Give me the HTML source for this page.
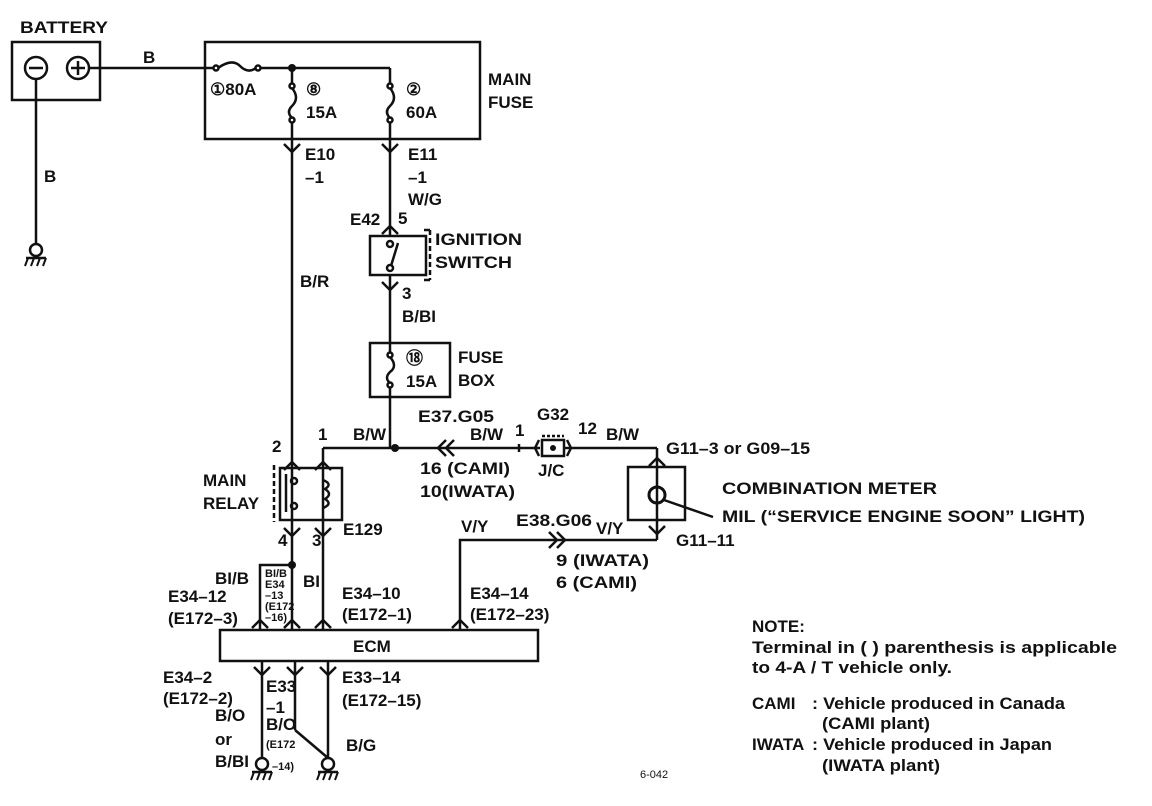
<!DOCTYPE html>
<html><head><meta charset="utf-8"><style>
html,body{margin:0;padding:0;background:#fff}
svg{display:block}
text{font-family:"Liberation Sans",sans-serif;font-size:17px;fill:#111;font-weight:bold}
.s{font-size:11px}
</style></head><body>
<svg width="1152" height="806" viewBox="0 0 1152 806" xmlns="http://www.w3.org/2000/svg">
<g stroke="#111" stroke-width="2.5" fill="none">
<rect x="12" y="42" width="88" height="58"/>
<circle cx="36" cy="68" r="11"/><line x1="29" y1="68" x2="43" y2="68"/>
<circle cx="78" cy="68" r="11"/><line x1="71" y1="68" x2="85" y2="68"/><line x1="78" y1="61" x2="78" y2="75"/>
<line x1="89" y1="68" x2="214" y2="68"/>
<line x1="36" y1="79" x2="36" y2="244"/>
<rect x="205" y="42" width="275" height="97"/>
<path d="M218 68 Q232 58 240 66 Q248 74 256 68"/>
<circle cx="216" cy="68" r="2.5"/><circle cx="258" cy="68" r="2.5"/>
<line x1="260" y1="68" x2="390" y2="68"/>
<line x1="390" y1="68" x2="390" y2="84"/>
<line x1="292" y1="68" x2="292" y2="84"/>
<path d="M292 88 Q300 98 292 106 Q286 112 292 118"/>
<path d="M390 88 Q398 98 390 106 Q384 112 390 118"/>
<circle cx="292" cy="86" r="2.5"/><circle cx="292" cy="120" r="2.5"/>
<circle cx="390" cy="86" r="2.5"/><circle cx="390" cy="120" r="2.5"/>
<line x1="292" y1="122" x2="292" y2="565"/>
<line x1="390" y1="122" x2="390" y2="235"/>
<path d="M284 144 L292 152 L300 144"/><path d="M382 144 L390 152 L398 144"/>
<path d="M382 234 L390 226 L398 234"/>
<rect x="370" y="236" width="56" height="39"/>
<path d="M430 230 L430 280" stroke-dasharray="5,3"/>
<path d="M424 230 L430 230 M424 280 L430 280"/>
<circle cx="390" cy="244" r="3"/><circle cx="390" cy="268" r="3"/>
<line x1="391" y1="266" x2="398" y2="243"/>
<line x1="390" y1="275" x2="390" y2="343"/>
<path d="M382 282 L390 290 L398 282"/>
<rect x="370" y="343" width="80" height="54"/>
<line x1="390" y1="343" x2="390" y2="352"/>
<circle cx="390" cy="355" r="2.5"/><circle cx="390" cy="385" r="2.5"/>
<path d="M390 357 Q398 366 390 372 Q384 378 390 383"/>
<line x1="390" y1="388" x2="390" y2="448"/>
<line x1="323" y1="448" x2="540" y2="448"/>
<line x1="565" y1="448" x2="657" y2="448"/>
<path d="M446 440 L438 448 L446 456 M454 440 L446 448 L454 456"/>
<line x1="519" y1="444" x2="519" y2="452"/>
<rect x="542" y="440" width="22" height="16"/>
<path d="M539 440 L535 448 L539 456 M567 440 L571 448 L567 456"/>
<path d="M542 436 L564 436" stroke-dasharray="3,2"/>
<line x1="657" y1="448" x2="657" y2="540"/>
<line x1="323" y1="448" x2="323" y2="630"/>
<path d="M284 470 L292 462 L300 470"/><path d="M315 470 L323 462 L331 470"/>
<rect x="280" y="468" width="62" height="52"/>
<path d="M274 465 L274 522" stroke-dasharray="5,3"/>
<line x1="286" y1="474" x2="286" y2="512"/>
<circle cx="294" cy="481" r="3"/><circle cx="294" cy="506" r="3"/>
<path d="M323 480 Q333 484 325 489 Q333 494 325 499 Q333 504 323 508"/>
<path d="M284 528 L292 536 L300 528"/><path d="M315 528 L323 536 L331 528"/>
<polyline points="292,565 260,565 260,630"/>
<line x1="292" y1="565" x2="292" y2="630"/>
<rect x="220" y="630" width="318" height="31"/>
<path d="M252 628 L260 620 L268 628"/><path d="M284 628 L292 620 L300 628"/><path d="M315 628 L323 620 L331 628"/><path d="M452 628 L460 620 L468 628"/>
<polyline points="460,630 460,540 657,540"/>
<path d="M549 532 L557 540 L549 548 M557 532 L565 540 L557 548"/>
<path d="M649 466 L657 458 L665 466"/><path d="M649 526 L657 534 L665 526"/>
<rect x="628" y="467" width="57" height="53"/>
<circle cx="657" cy="495" r="8" stroke-width="3"/>
<line x1="664" y1="500" x2="713" y2="517"/>
<line x1="262" y1="661" x2="262" y2="758"/>
<line x1="295" y1="661" x2="295" y2="730"/>
<line x1="295" y1="730" x2="328" y2="758"/>
<line x1="328" y1="661" x2="328" y2="758"/>
<path d="M254 667 L262 675 L270 667"/><path d="M287 667 L295 675 L303 667"/><path d="M320 667 L328 675 L336 667"/>
<circle cx="36" cy="250" r="6"/><line x1="26" y1="258" x2="46" y2="258"/>
<circle cx="262" cy="764" r="6"/><line x1="252" y1="772" x2="272" y2="772"/>
<circle cx="328" cy="764" r="6"/><line x1="318" y1="772" x2="338" y2="772"/>
</g>
<g stroke="#111" stroke-width="2">
<path d="M28 258 l-3 8 M34 258 l-3 8 M40 258 l-3 8 M46 258 l-3 8"/>
<path d="M254 772 l-3 8 M260 772 l-3 8 M266 772 l-3 8 M272 772 l-3 8"/>
<path d="M320 772 l-3 8 M326 772 l-3 8 M332 772 l-3 8 M338 772 l-3 8"/>
</g>
<g fill="#111">
<circle cx="292" cy="68" r="4"/><circle cx="395" cy="448" r="4"/><circle cx="292" cy="565" r="4"/><circle cx="553" cy="448" r="3"/>
</g>
<g lengthAdjust="spacingAndGlyphs">
<text x="20" y="33" textLength="88" lengthAdjust="spacingAndGlyphs">BATTERY</text>
<text x="143" y="63">B</text>
<text x="44" y="182">B</text>
<text x="210" y="95">①80A</text>
<text x="306" y="95">⑧</text><text x="306" y="118">15A</text>
<text x="406" y="95">②</text><text x="406" y="118">60A</text>
<text x="488" y="85">MAIN</text><text x="488" y="108">FUSE</text>
<text x="305" y="160">E10</text><text x="305" y="183">–1</text>
<text x="408" y="160">E11</text><text x="408" y="183">–1</text><text x="408" y="205">W/G</text>
<text x="300" y="287">B/R</text>
<text x="350" y="225">E42</text><text x="398" y="224">5</text>
<text x="435" y="245" textLength="87" lengthAdjust="spacingAndGlyphs">IGNITION</text><text x="435" y="268" textLength="77" lengthAdjust="spacingAndGlyphs">SWITCH</text>
<text x="402" y="299">3</text><text x="402" y="322">B/BI</text>
<text x="406" y="364">⑱</text><text x="406" y="387">15A</text>
<text x="458" y="363">FUSE</text><text x="458" y="386">BOX</text>
<text x="353" y="440">B/W</text>
<text x="272" y="452">2</text><text x="318" y="440">1</text>
<text x="418" y="422" textLength="76" lengthAdjust="spacingAndGlyphs">E37.G05</text><text x="470" y="440">B/W</text><text x="515" y="436">1</text>
<text x="537" y="420">G32</text><text x="578" y="434">12</text><text x="606" y="440">B/W</text>
<text x="538" y="476">J/C</text>
<text x="420" y="474" textLength="90" lengthAdjust="spacingAndGlyphs">16 (CAMI)</text><text x="420" y="497" textLength="95" lengthAdjust="spacingAndGlyphs">10(IWATA)</text>
<text x="666" y="454" textLength="144" lengthAdjust="spacingAndGlyphs">G11–3 or G09–15</text>
<text x="722" y="494" textLength="215" lengthAdjust="spacingAndGlyphs">COMBINATION METER</text>
<text x="722" y="522" textLength="363" lengthAdjust="spacingAndGlyphs">MIL (“SERVICE ENGINE SOON” LIGHT)</text>
<text x="676" y="546">G11–11</text>
<text x="203" y="486">MAIN</text><text x="203" y="509">RELAY</text>
<text x="343" y="535">E129</text>
<text x="278" y="546">4</text><text x="312" y="546">3</text>
<text x="461" y="532">V/Y</text><text x="516" y="526" textLength="76" lengthAdjust="spacingAndGlyphs">E38.G06</text><text x="596" y="534">V/Y</text>
<text x="556" y="566" textLength="93" lengthAdjust="spacingAndGlyphs">9 (IWATA)</text><text x="556" y="588" textLength="81" lengthAdjust="spacingAndGlyphs">6 (CAMI)</text>
<text x="215" y="584">BI/B</text><text x="168" y="602">E34–12</text><text x="168" y="624">(E172–3)</text>
<text class="s" x="265" y="577">BI/B</text><text class="s" x="265" y="588">E34</text><text class="s" x="265" y="599">–13</text><text class="s" x="265" y="610">(E172</text><text class="s" x="265" y="621">–16)</text>
<text x="303" y="587">BI</text>
<text x="342" y="599">E34–10</text><text x="342" y="620">(E172–1)</text>
<text x="470" y="599">E34–14</text><text x="470" y="620">(E172–23)</text>
<text x="353" y="652">ECM</text>
<text x="163" y="683">E34–2</text><text x="163" y="704">(E172–2)</text>
<text x="266" y="692">E33</text><text x="266" y="713">–1</text><text x="266" y="730">B/O</text>
<text class="s" x="266" y="748">(E172</text><text class="s" x="272" y="770">–14)</text>
<text x="342" y="683">E33–14</text><text x="342" y="706">(E172–15)</text>
<text x="215" y="721">B/O</text><text x="215" y="745">or</text><text x="215" y="767">B/BI</text>
<text x="346" y="751">B/G</text>
<text x="752" y="632">NOTE:</text>
<text x="752" y="653" textLength="365" lengthAdjust="spacingAndGlyphs">Terminal in (   ) parenthesis is applicable</text>
<text x="752" y="673" textLength="200" lengthAdjust="spacingAndGlyphs">to 4-A / T vehicle only.</text>
<text x="752" y="709">CAMI</text><text x="812" y="709" textLength="253" lengthAdjust="spacingAndGlyphs">: Vehicle produced in Canada</text>
<text x="822" y="729" textLength="108" lengthAdjust="spacingAndGlyphs">(CAMI plant)</text>
<text x="752" y="750">IWATA</text><text x="812" y="750" textLength="240" lengthAdjust="spacingAndGlyphs">: Vehicle produced in Japan</text>
<text x="822" y="771" textLength="118" lengthAdjust="spacingAndGlyphs">(IWATA plant)</text>
<text x="640" y="778" style="font-size:11px;font-weight:normal">6-042</text>
</g>
</svg>
</body></html>
